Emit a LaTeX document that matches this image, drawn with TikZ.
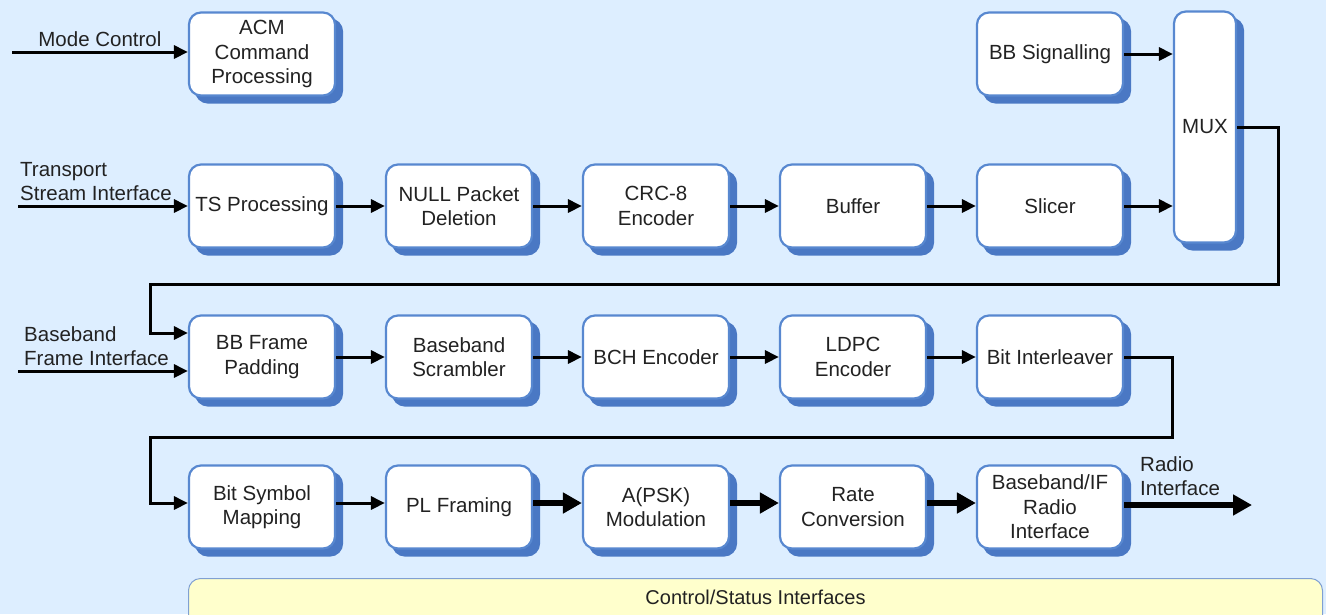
\documentclass[tikz,border=0pt]{standalone}
\usepackage{fontspec}
\setmainfont{Liberation Sans}
\usetikzlibrary{arrows.meta}
\definecolor{bgblue}{RGB}{221,238,255}
\definecolor{boxline}{RGB}{88,136,208}
\definecolor{boxshade}{RGB}{74,120,196}
\definecolor{barfill}{RGB}{255,255,204}
\definecolor{barline}{RGB}{128,160,210}
\definecolor{txt}{RGB}{34,34,34}
\tikzset{
  blk/.style={draw=boxline,line width=2.2pt,fill=white,rounded corners=12pt,
    minimum width=146pt,minimum height=83pt,align=center,text=txt,
    font=\fontsize{20.5}{24.5}\selectfont,inner sep=2pt,
    preaction={fill=boxshade,draw=boxshade,transform canvas={shift={(7pt,-7pt)}}}},
  lbl/.style={text=txt,font=\fontsize{20.5}{24.5}\selectfont,align=left,inner sep=2pt},
  sig/.style={line width=3pt,-{Triangle[length=14pt,width=13pt]}},
  fat/.style={line width=6pt,-{Triangle[length=19pt,width=20pt]}},
  wire/.style={line width=3pt}}
\begin{document}
\begin{tikzpicture}[x=1pt,y=-1pt]
 \clip (0,0) rectangle (1326,614);
 \fill[bgblue] (0,0) rectangle (1326,614);
 % row 1
 \node[blk](acm) at (262,54){ACM\\Command\\Processing};
 \node[blk](bbsig) at (1050,54){BB Signalling};
 \node[blk,minimum width=62pt,minimum height=231pt](mux) at (1205,127){MUX};
 % row 2
 \node[blk](tsp) at (262,206){TS Processing};
 \node[blk](nulldel) at (459,206){NULL Packet\\Deletion};
 \node[blk](crc) at (656,206){CRC-8\\Encoder};
 \node[blk](buf) at (853,206){Buffer};
 \node[blk](slicer) at (1050,206){Slicer};
 % row 3
 \node[blk](bbpad) at (262,357){BB Frame\\Padding};
 \node[blk](scram) at (459,357){Baseband\\Scrambler};
 \node[blk](bch) at (656,357){BCH Encoder};
 \node[blk](ldpc) at (853,357){LDPC\\Encoder};
 \node[blk](bitint) at (1050,357){Bit Interleaver};
 % row 4
 \node[blk](bsm) at (262,507){Bit Symbol\\Mapping};
 \node[blk](plf) at (459,507){PL Framing};
 \node[blk](mod) at (656,507){A(PSK)\\Modulation};
 \node[blk](rate) at (853,507){Rate\\Conversion};
 \node[blk](bbif) at (1050,507){Baseband/IF\\Radio\\Interface};
 % control bar
 \node[draw=barline,line width=1pt,fill=barfill,rounded corners=12pt,
   minimum width=1134pt,minimum height=60pt,anchor=north west,text=txt,
   font=\fontsize{20}{24}\selectfont,text depth=22pt](ctrl) at (188,578){Control/Status Interfaces};
 % inputs
 \coordinate (mcin) at (12,52);
 \coordinate (tsin) at (18,206);
 \coordinate (bbin) at (18,371);
 \draw[sig](mcin)--(mcin-|acm.west) node[midway,above,lbl,yshift=2pt]{Mode Control};
 \draw[sig](tsin)--(tsp.west);
 \node[lbl,anchor=south west,yshift=3pt] at (tsin){Transport\\Stream Interface};
 \draw[sig](bbin)--(bbin-|bbpad.west);
 \node[lbl,anchor=south west,xshift=4pt,yshift=3pt] at (bbin){Baseband\\Frame Interface};
 % row 2 chain
 \draw[sig](tsp)--(nulldel);
 \draw[sig](nulldel)--(crc);
 \draw[sig](crc)--(buf);
 \draw[sig](buf)--(slicer);
 \draw[sig](slicer.east)--(slicer.east-|mux.west);
 \draw[sig](bbsig.east)--(bbsig.east-|mux.west);
 % MUX loop down to row 3
 \coordinate (muxloop) at (150,284);
 \draw[sig](mux.east)--++(41,0)|-(muxloop)|-([yshift=24pt]bbpad.west);
 \draw[sig](bbpad)--(scram);
 \draw[sig](scram)--(bch);
 \draw[sig](bch)--(ldpc);
 \draw[sig](ldpc)--(bitint);
 % loop down to row 4
 \coordinate (intloop) at (150,437);
 \draw[sig](bitint.east)--++(48,0)|-(intloop)|-([yshift=4pt]bsm.west);
 \draw[sig]([yshift=4pt]bsm.east)--([yshift=4pt]plf.west);
 \draw[fat]([yshift=4pt]plf.east)--([yshift=4pt]mod.west);
 \draw[fat]([yshift=4pt]mod.east)--([yshift=4pt]rate.west);
 \draw[fat]([yshift=4pt]rate.east)--([yshift=4pt]bbif.west);
 \coordinate (radio) at (1252,505);
 \draw[fat](bbif.east|-radio)--(radio);
 \node[lbl,anchor=south west,yshift=2pt] at (1138,500){Radio\\Interface};
\end{tikzpicture}
\end{document}
